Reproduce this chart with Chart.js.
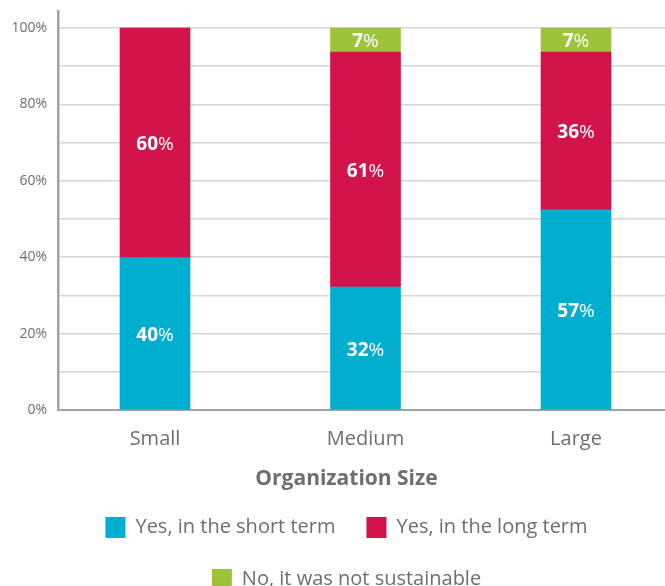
<!DOCTYPE html>
<html>
<head>
<meta charset="utf-8">
<script src="https://cdn.jsdelivr.net/npm/chart.js@4"></script>
<style>
html,body{margin:0;padding:0;background:#fff;overflow:hidden;}
canvas{display:block;}
</style>
</head>
<body>
<canvas id="c" width="665" height="600"></canvas>
<script>
// ---- data ----
const categories = ['Small', 'Medium', 'Large'];
const seriesNames = ['Yes, in the short term', 'Yes, in the long term', 'No, it was not sustainable'];
// drawn segment heights (% of axis)
const shortTerm = [39.9, 32.2, 52.4];
const longTerm = [60.1, 61.5, 41.3];
const notSustainable = [0, 6.3, 6.3];
// printed labels on the segments
const shortTermLabels = ['40%', '32%', '57%'];
const longTermLabels = ['60%', '61%', '36%'];
const notSustainableLabels = ['', '7%', '7%'];
const yTicks = [0, 10, 20, 30, 40, 50, 60, 70, 80, 90, 100];

const colors = ['#00AECF', '#D2144A', '#9DC33B'];
const textColor = '#6d6e71';
const FONT = "'Open Sans', sans-serif";
Chart.defaults.font.family = FONT;
Chart.defaults.color = textColor;

const seriesValues = [shortTerm, longTerm, notSustainable];
const seriesLabels = [shortTermLabels, longTermLabels, notSustainableLabels];

const datasets = seriesValues.map((vals, i) => ({
  label: seriesNames[i],
  data: vals.map((v, j) => ({x: j, y: v})),
  backgroundColor: colors[i],
  borderWidth: 0,
  barThickness: 70
}));

const segLabelPlugin = {
  id: 'segLabels',
  afterLayout(chart) {
    // legend and title are centred on the area right of 28px, as in the reference
    if (chart.legend) chart.legend.left = 28;
    if (chart.titleBlock) chart.titleBlock.left = 28;
  },
  afterDatasetsDraw(chart) {
    const ctx = chart.ctx;
    ctx.save();
    ctx.fillStyle = '#ffffff';
    ctx.textBaseline = 'middle';
    ctx.textAlign = 'left';
    chart.data.datasets.forEach((ds, i) => {
      const meta = chart.getDatasetMeta(i);
      meta.data.forEach((bar, j) => {
        const t = seriesLabels[i][j];
        if (!t) return;
        const p = bar.getProps(['x', 'y', 'base'], true);
        const cy = (p.y + p.base) / 2 + 2;
        const num = t.replace('%', '');
        const fNum = "700 19px " + FONT;
        const fPct = "400 19px " + FONT;
        ctx.font = fNum; const wn = ctx.measureText(num).width;
        ctx.font = fPct; const wp = ctx.measureText('%').width;
        const x0 = p.x - (wn + wp) / 2;
        ctx.font = fNum; ctx.fillText(num, x0, cy);
        ctx.font = fPct; ctx.fillText('%', x0 + wn, cy);
      });
    });
    ctx.restore();
  }
};

new Chart(document.getElementById('c'), {
  type: 'bar',
  data: { datasets },
  options: {
    responsive: false,
    animation: false,
    devicePixelRatio: 1,
    layout: { padding: { top: 11, left: 0, right: 0, bottom: 0 } },
    scales: {
      x: {
        type: 'linear',
        stacked: true,
        offset: false,
        bounds: 'data',
        min: -0.4608,
        max: 2.4228,
        afterBuildTicks(scale) { scale.ticks = categories.map((c, i) => ({value: i})); },
        afterFit(scale) { scale.height = 61.6; scale.paddingLeft = 0; scale.paddingRight = 0; },
        grid: { display: false, drawTicks: false, offset: false },
        border: { display: true, color: '#a3a3a3', width: 2 },
        ticks: {
          padding: 17,
          font: { size: 20 },
          color: textColor,
          callback: (v) => categories[v] ?? ''
        }
      },
      y: {
        stacked: true,
        min: 0,
        max: 104.45,
        afterBuildTicks(scale) { scale.ticks = yTicks.map(v => ({value: v})); },
        afterFit(scale) { scale.width = 58; scale.paddingTop = 0; scale.paddingBottom = 0; },
        grid: { color: '#d6d6d6', lineWidth: 1.5, drawTicks: false },
        border: { display: true, color: '#a3a3a3', width: 2.5 },
        ticks: {
          padding: 11,
          font: { size: 14 },
          color: textColor,
          callback: (v) => (v % 20 === 0 ? v + '%' : '')
        }
      }
    },
    plugins: {
      tooltip: { enabled: false },
      title: {
        display: true,
        text: 'Organization Size',
        position: 'bottom',
        weight: 500,
        color: textColor,
        font: { size: 21, weight: 'bold', lineHeight: 0.686 },
        padding: 0
      },
      legend: {
        position: 'bottom',
        labels: {
          boxWidth: 20,
          boxHeight: 21,
          padding: 31,
          color: textColor,
          font: { size: 20 }
        }
      }
    }
  },
  plugins: [segLabelPlugin]
});
</script>
</body>
</html>
